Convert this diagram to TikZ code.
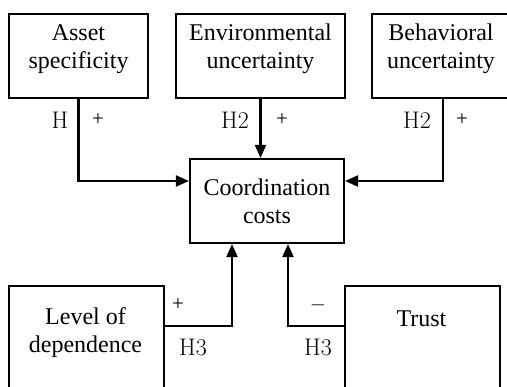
\documentclass[tikz,border=0pt]{standalone}
\usepackage{fontspec}
\setmainfont{Liberation Serif}
\newfontfamily\lblfont{Latin Modern Roman}
\usetikzlibrary{arrows.meta,calc}
\begin{document}
\begin{tikzpicture}[x=1pt,y=-1pt,
  box/.style={draw,line width=2.1pt,inner sep=0pt,minimum width=#1},
  txt/.style={align=center,font=\fontsize{24}{28}\selectfont,inner sep=0pt},
  lbl/.style={font=\lblfont\fontsize{24}{28}\selectfont,inner sep=0pt},
  sgn/.style={font=\fontsize{21}{24}\selectfont,inner sep=0pt},
  arr/.style={line width=2.1pt,-{Triangle[length=13pt,width=11pt]}}]
\useasboundingbox (0,0) rectangle (507,387);
% top boxes
\node[box=139pt,minimum height=84pt] (asset) at (78.5,56) {};
\node[box=169pt,minimum height=84pt] (env) at (260.5,56) {};
\node[box=138pt,minimum height=84pt] (behav) at (441,56) {};
\node[txt] at (78.5,49) {Asset\\specificity};
\node[txt] at (260.5,49) {Environmental\\uncertainty};
\node[txt] at (441,49) {Behavioral\\uncertainty};
% centre box
\node[box=154pt,minimum height=84pt] (coord) at (267,201) {};
\node[txt] at (267,201) {Coordination\\costs};
% bottom boxes
\node[box=155pt,minimum height=120pt,anchor=north west] (lvl) at (8,285) {};
\node[box=155pt,minimum height=120pt,anchor=north west] (trust) at (344,285) {};
\node[txt] at (85.5,333) {Level of\\dependence};
\node[txt] at (421.5,319) {Trust};
% connectors
\draw[arr] (asset.south) |- ([yshift=20pt]coord.west);
\draw[arr] (env.south) -- (env.south |- coord.north);
\draw[arr] ([xshift=2pt]behav.south) |- ([yshift=20pt]coord.east);
\draw[arr] ([yshift=-41pt]lvl.north east) -| ([xshift=-35pt]coord.south);
\draw[arr] ([yshift=-41pt]trust.north west) -| ([xshift=21pt]coord.south);
% labels
\node[lbl] (l1) at (60,120) {H};
\node[sgn] (s1) at (98,120) {+};
\node[lbl] (l2) at (235,120) {H2};
\node[sgn] (s2) at (282,120) {+};
\node[lbl] (l3) at (417,120) {H2};
\node[sgn] (s3) at (462,120) {+};
\node[sgn] (s4) at (178,305) {+};
\node[lbl] (l4) at (193,347) {H3};
\node[sgn] (s5) at (318,305) {$-$};
\node[lbl] (l5) at (318,347) {H3};
\end{tikzpicture}
\end{document}
